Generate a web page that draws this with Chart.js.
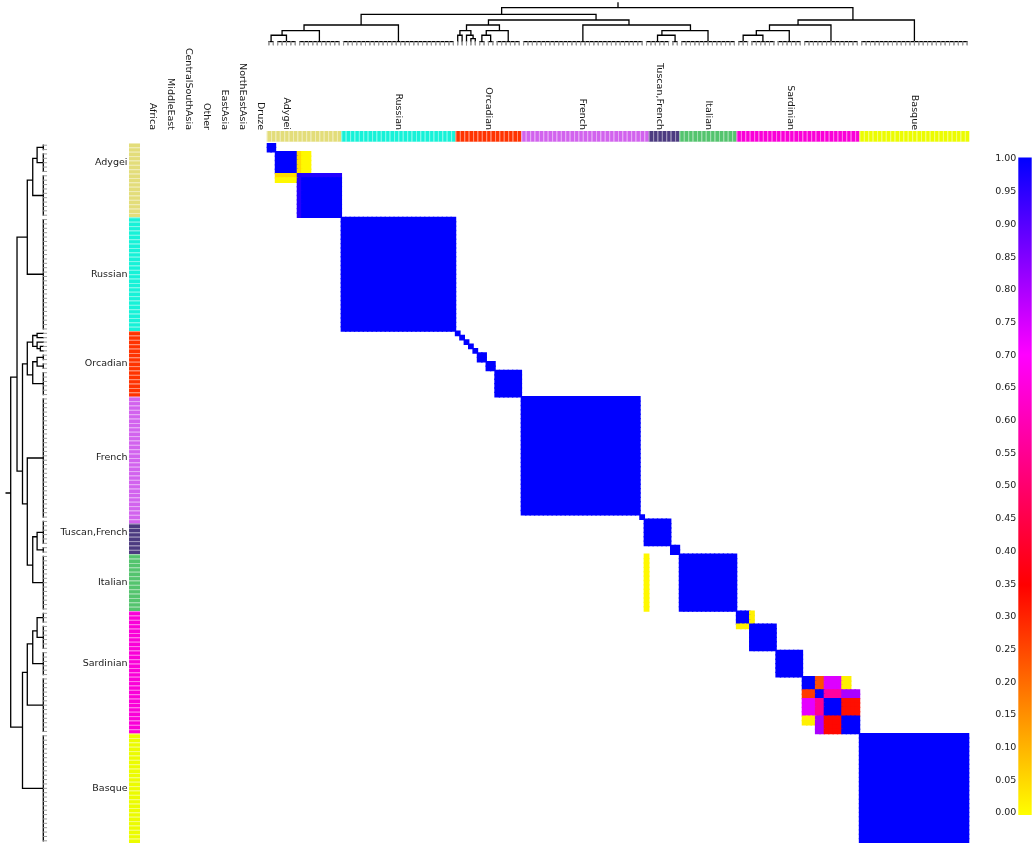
<!DOCTYPE html>
<html><head><meta charset="utf-8">
<script src="https://cdn.jsdelivr.net/npm/chart.js@4.4.1/dist/chart.umd.min.js"></script>
<style>
html,body{margin:0;padding:0;background:#fff;}
#wrap{position:relative;width:1034px;height:845px;overflow:hidden;background:#fff;}
canvas{position:absolute;}
</style></head><body>
<div id="wrap">
<canvas id="heat" width="1034" height="845" style="left:0;top:0"></canvas>
<canvas id="dtop" width="1034" height="50" style="left:0;top:0"></canvas>
<canvas id="dleft" width="60" height="845" style="left:0;top:0"></canvas>
<canvas id="cbar" width="94" height="845" style="left:940px;top:0"></canvas>
</div>
<script>
// ---------------- data ----------------
const N = 160;
const popNames  = ['Adygei','Russian','Orcadian','French','Tuscan,French','Italian','Sardinian','Basque'];
const popCounts = [17,26,15,29,7,13,28,25];
const popColors = ['#e3dd7a','#17f2d8','#ff3300','#d263ee','#4c3b80','#54c46e','#fa00d8','#ecfc00'];

const colLabels  = ['Africa','MiddleEast','CentralSouthAsia','Other','EastAsia','NorthEastAsia','Druze','Adygei','Russian','Orcadian','French','Tuscan,French','Italian','Sardinian','Basque'];
const colLabelAt = [-26.1,-22,-17.9,-13.8,-9.7,-5.6,-1.5,4.5,30,50.5,72,89.5,100.5,119.2,147.5];
const rowLabels  = ['Adygei','Russian','Orcadian','French','Tuscan,French','Italian','Sardinian','Basque'];
const rowLabelAt = [4.5,30,50.5,72,89,100.5,119,147.5];

// diagonal co-clustering blocks (value 1.0), given as sample-index breaks
const diagBreaks = [0,2,7,17,43,44,45,46,47,48,50,52,58,85,86,92,94,107,110,116,122,125,127,131,135,160];
// off-diagonal / adjusted blocks: row start, row end, col start, col end, value
const offR0 = [7, 7, 2, 2, 7, 8, 94, 107,110, 122,122,122, 125,125,125, 127,127,127, 131,131,131];
const offR1 = [17,8, 7, 7, 8, 9, 107,110,111, 125,125,125, 127,127,127, 131,131,131, 133,135,135];
const offC0 = [7, 8, 7, 8, 2, 2, 86, 110,107, 125,127,131, 122,127,131, 122,125,131, 122,125,127];
const offC1 = [8, 17,8, 10,7, 7, 87, 111,110, 127,131,133, 125,131,135, 125,127,135, 125,127,131];
const offVal= [0.96,0.96,0.05,0.01,0.05,0.01, 0.01, 0.02,0.02, 0.24,0.74,0.02, 0.27,0.57,0.80, 0.73,0.55,0.33, 0.02,0.80,0.34];

// dendrogram (same tree on both axes): leaf range start, end, merge height
const nodeStart  = [0,  0,    0,    0,    0,   0,2,7,17, 43,   43,   43,   43,  45,  46,  48,   48,  48,50,52, 58,   58,86,   86,  86,92,94, 107,  107,  107,  107, 107,110,116,122,135];
const nodeEnd    = [159,106,  42,   16,   6,   1,6,16,42, 106,  57,   47,   44,  47,  47,  57,   51,  49,51,57, 106,  85,106,  93,  91,93,106,159,  134,  121,  115, 109,115,121,134,159];
const nodeHeight = [1.0,0.806,0.491,0.324,0.19,0,0,0,0,  0.638,0.491,0.324,0.19,0.19,0.09,0.324,0.19,0, 0, 0, 0.491,0, 0.324,0.19,0, 0, 0,  0.638,0.491,0.324,0.19,0,  0,  0,  0,  0];

// colour map
const cmapStops  = [0, 0.35, 0.7, 1];
const cmapColors = [[255,255,0],[255,0,0],[255,0,255],[0,0,255]];
const cbarTicks = 0.05;

// ---------------- helpers ----------------
function cmap(v){
  for (let k=0;k<cmapStops.length-1;k++){
    if (v<=cmapStops[k+1] || k===cmapStops.length-2){
      const t=Math.max(0,Math.min(1,(v-cmapStops[k])/(cmapStops[k+1]-cmapStops[k])));
      const a=cmapColors[k], b=cmapColors[k+1];
      return 'rgb('+a.map((c,i)=>Math.round(c+(b[i]-c)*t)).join(',')+')';
    }
  }
}
const M = Array.from({length:N},()=>new Array(N).fill(null));
for (let b=0;b<diagBreaks.length-1;b++)
  for (let i=diagBreaks[b];i<diagBreaks[b+1];i++)
    for (let j=diagBreaks[b];j<diagBreaks[b+1];j++) M[i][j]=1;
offVal.forEach((v,k)=>{
  for (let i=offR0[k];i<offR1[k];i++) for (let j=offC0[k];j<offC1[k];j++) M[i][j]=v;
});
const cells=[];
for (let i=0;i<N;i++) for (let j=0;j<N;j++) if (M[i][j]!==null) cells.push({x:j+0.5,y:i+0.5,v:M[i][j]});

const ROOT_STUB=0.14, TICK=0.1;
function buildDendro(){
  const nd = nodeStart.map((s,k)=>({s, e:nodeEnd[k], h:nodeHeight[k], pos:(s+nodeEnd[k]+1)/2}));
  nd.forEach((a,ia)=>{
    let best=-1;
    nd.forEach((b,ib)=>{
      if (ib!==ia && b.s<=a.s && b.e>=a.e && (b.e-b.s)>(a.e-a.s)){
        if (best<0 || (nd[best].e-nd[best].s)>(b.e-b.s)) best=ib;
      }
    });
    a.parent=best;
  });
  const segs=[];
  nd.forEach((a,ia)=>{
    if (a.h===0){ if (a.e>a.s) segs.push([[a.s+0.5,0],[a.e+0.5,0]]); return; }
    const kids = nd.filter(b=>b.parent===ia).map(b=>({pos:b.pos,h:b.h,s:b.s,e:b.e}));
    for (let i=a.s;i<=a.e;i++) if (!kids.some(b=>i>=b.s&&i<=b.e)) kids.push({pos:i+0.5,h:0,s:i,e:i});
    kids.sort((p,q)=>p.pos-q.pos);
    const f=kids[0], l=kids[kids.length-1];
    segs.push([[f.pos,f.h],[f.pos,a.h],[l.pos,a.h],[l.pos,l.h]]);
    kids.slice(1,-1).forEach(m=>segs.push([[m.pos,m.h],[m.pos,a.h]]));
    if (a.parent<0) segs.push([[a.pos,a.h],[a.pos,a.h+ROOT_STUB]]);
  });
  const ticks=[];
  for (let i=0;i<N;i++) ticks.push([[i+0.5,0],[i+0.5,-TICK]]);
  return {segs,ticks};
}
function toData(segs, swap){
  const out=[];
  segs.forEach(s=>{ s.forEach(p=>out.push(swap?{x:p[1],y:p[0]}:{x:p[0],y:p[1]})); out.push({x:null,y:null}); });
  return out;
}
const dendro = buildDendro();

Chart.defaults.font.family = '"DejaVu Sans", sans-serif';
const FONT = '9.5px "DejaVu Sans", sans-serif';
const TXT = '#1a1a1a';
const base = {responsive:false, animation:false, events:[], plugins:{legend:{display:false}, tooltip:{enabled:false}}};

// ---------------- heatmap + colour bars + labels ----------------
const barsAndLabels = {
  id:'barsAndLabels',
  afterDraw(chart){
    const {ctx, scales:{x,y}} = chart;
    ctx.save();
    let idx=0;
    popCounts.forEach((n,g)=>{
      for (let k=0;k<n;k++,idx++){
        const x0=x.getPixelForValue(idx), x1=x.getPixelForValue(idx+1);
        const y0=y.getPixelForValue(idx), y1=y.getPixelForValue(idx+1);
        ctx.fillStyle=popColors[g];
        ctx.fillRect(x0,131,x1-x0,10.7);
        ctx.fillRect(129,y0,11,y1-y0);
        ctx.fillStyle='rgba(255,255,255,0.45)';
        ctx.fillRect(x0,131,1,10.7);
        ctx.fillRect(129,y0,11,1);
      }
    });
    ctx.fillStyle=TXT; ctx.font=FONT;
    colLabels.forEach((t,k)=>{
      ctx.save();
      ctx.translate(x.getPixelForValue(colLabelAt[k]),130);
      ctx.rotate(Math.PI/2);
      ctx.textAlign='right'; ctx.textBaseline='middle';
      ctx.fillText(t,0,0);
      ctx.restore();
    });
    ctx.textAlign='right'; ctx.textBaseline='middle';
    rowLabels.forEach((t,k)=>ctx.fillText(t,127.5,y.getPixelForValue(rowLabelAt[k])));
    ctx.restore();
  }
};
new Chart(document.getElementById('heat'),{
  type:'scatter',
  data:{datasets:[{
    data:cells, pointStyle:'rect', borderWidth:0,
    backgroundColor:c=>c.raw?cmap(c.raw.v):'#00f',
    pointRadius:c=>{const s=c.chart.scales.x; return (Math.abs(s.getPixelForValue(1)-s.getPixelForValue(0))+1.4)/(2*Math.SQRT1_2);},
  }]},
  options:Object.assign({},base,{
    layout:{padding:{left:266.7,top:143,right:64.7,bottom:2}},
    scales:{x:{type:'linear',min:0,max:N,display:false},y:{type:'linear',min:0,max:N,reverse:true,display:false}}
  }),
  plugins:[barsAndLabels]
});

// ---------------- dendrograms ----------------
const lineDs = (data,color,w)=>({data,borderColor:color,borderWidth:w,pointRadius:0,fill:false,tension:0,clip:false,borderCapStyle:'square'});
new Chart(document.getElementById('dtop'),{
  type:'line',
  data:{datasets:[lineDs(toData(dendro.ticks,false),'#9a9a9a',1), lineDs(toData(dendro.segs,false),'#000',1.3)]},
  options:Object.assign({},base,{
    layout:{padding:{left:266.7,right:64.7,top:7.7,bottom:8.3}},
    scales:{x:{type:'linear',min:0,max:N,display:false},y:{type:'linear',min:0,max:1,display:false}}
  })
});
new Chart(document.getElementById('dleft'),{
  type:'line',
  data:{datasets:[lineDs(toData(dendro.ticks,true),'#9a9a9a',1), lineDs(toData(dendro.segs,true),'#000',1.3)]},
  options:Object.assign({},base,{
    layout:{padding:{left:10.7,right:16.7,top:143,bottom:2}},
    scales:{x:{type:'linear',min:0,max:1,reverse:true,display:false},y:{type:'linear',min:0,max:N,reverse:true,display:false}}
  })
});

// ---------------- colour bar ----------------
const gradBar = {
  id:'gradBar',
  beforeDatasetsDraw(chart){
    const {ctx, chartArea:a, scales:{y}} = chart;
    const y1=y.getPixelForValue(1)-1.5, y0=y.getPixelForValue(0)+2;
    const g=ctx.createLinearGradient(0,y0,0,y1);
    cmapStops.forEach((s,k)=>g.addColorStop(s,'rgb('+cmapColors[k].join(',')+')'));
    ctx.save(); ctx.fillStyle=g; ctx.fillRect(a.left,y1,a.right-a.left,y0-y1); ctx.restore();
  }
};
new Chart(document.getElementById('cbar'),{
  type:'scatter',
  data:{datasets:[]},
  options:Object.assign({},base,{
    layout:{padding:{left:38.3,right:2.3,top:159,bottom:32}},
    scales:{
      x:{type:'linear',min:0,max:1,display:false},
      y:{type:'linear',position:'left',min:0,max:1,
         afterFit:s=>{s.width=40;},
         grid:{display:false,drawTicks:false}, border:{display:false},
         ticks:{stepSize:cbarTicks,autoSkip:false,padding:2,color:TXT,font:{size:9.5,family:'"DejaVu Sans", sans-serif'},callback:v=>Number(v).toFixed(2)}}
    }
  }),
  plugins:[gradBar]
});
</script>
</body></html>
